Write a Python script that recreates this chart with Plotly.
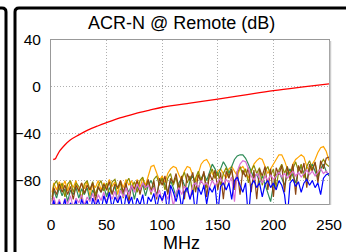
import plotly.graph_objects as go

FREQ = [1, 2.5, 5, 7.5, 10, 12.5, 15, 17.5, 20, 22.5, 25,
        27.5, 30, 32.5, 35, 37.5, 40, 42.5, 45, 47.5, 50,
        52.5, 55, 57.5, 60, 62.5, 65, 67.5, 70, 72.5, 75,
        77.5, 80, 82.5, 85, 87.5, 90, 92.5, 95, 97.5, 100,
        102.5, 105, 107.5, 110, 112.5, 115, 117.5, 120, 122.5, 125,
        127.5, 130, 132.5, 135, 137.5, 140, 142.5, 145, 147.5, 150,
        152.5, 155, 157.5, 160, 162.5, 165, 167.5, 170, 172.5, 175,
        177.5, 180, 182.5, 185, 187.5, 190, 192.5, 195, 197.5, 200,
        202.5, 205, 207.5, 210, 212.5, 215, 217.5, 220, 222.5, 225,
        227.5, 230, 232.5, 235, 237.5, 240, 242.5, 245, 247.5, 250]

ORANGE = [-90, -82, -88, -81, -87, -80, -89, -81, -86, -80, -90,
          -82, -87, -81, -93, -83, -86, -80, -88, -82, -86,
          -79, -85, -81, -92, -80, -86, -79, -84, -80, -88,
          -79, -86, -78, -84, -76, -68, -67, -74, -80, -76,
          -82, -74, -70, -68, -69, -75, -80, -72, -68, -69,
          -76, -82, -74, -66, -63, -62, -66, -74, -78, -72,
          -70, -74, -78, -70, -68, -72, -76, -70, -68, -72,
          -78, -72, -66, -63, -61, -62, -68, -74, -70, -66,
          -62, -58, -58, -63, -70, -74, -66, -62, -60, -58,
          -60, -68, -72, -66, -62, -56, -52, -51, -55, -63]

GREEN = [-96, -88, -95, -86, -93, -87, -98, -88, -92, -86, -95,
         -87, -92, -86, -97, -88, -93, -86, -90, -85, -94,
         -86, -91, -84, -99, -87, -92, -85, -90, -84, -96,
         -85, -89, -83, -93, -84, -80, -86, -92, -82, -78,
         -84, -90, -80, -86, -94, -82, -78, -84, -90, -80,
         -76, -82, -88, -78, -74, -80, -72, -66, -70, -76,
         -70, -64, -68, -74, -68, -62, -59, -58, -58, -61,
         -66, -72, -78, -74, -82, -76, -84, -90, -98, -84,
         -76, -72, -78, -84, -74, -70, -76, -82, -72, -68,
         -74, -80, -70, -66, -72, -78, -70, -66, -72, -76]

OLIVE = [-94, -84, -80, -88, -82, -94, -83, -80, -90, -82, -85,
         -96, -83, -80, -88, -81, -92, -84, -80, -89, -82,
         -93, -81, -79, -87, -82, -95, -82, -78, -86, -81,
         -90, -80, -77, -88, -80, -92, -79, -76, -84, -78,
         -88, -78, -74, -84, -77, -90, -78, -73, -82, -76,
         -92, -78, -72, -80, -74, -86, -76, -70, -78, -73,
         -84, -74, -69, -76, -71, -88, -74, -68, -75, -70,
         -82, -72, -67, -74, -69, -84, -72, -68, -76, -70,
         -86, -71, -66, -74, -68, -80, -70, -64, -72, -66,
         -78, -68, -63, -70, -65, -76, -66, -62, -66, -68]

BROWN = [-98, -86, -92, -83, -90, -84, -92, -85, -96, -84, -89,
         -82, -91, -84, -88, -82, -97, -85, -90, -83, -88,
         -81, -92, -83, -86, -80, -90, -82, -98, -84, -87,
         -80, -92, -82, -86, -79, -89, -80, -96, -78, -84,
         -76, -92, -78, -82, -74, -88, -76, -96, -74, -80,
         -73, -90, -75, -82, -72, -94, -74, -80, -71, -88,
         -73, -96, -72, -78, -70, -86, -72, -92, -71, -77,
         -69, -90, -71, -96, -70, -76, -68, -88, -70, -94,
         -69, -75, -67, -90, -68, -78, -66, -92, -67, -74,
         -65, -86, -66, -72, -64, -82, -63, -70, -61, -60]

VIOLET = [-100, -94, -102, -96, -104, -95, -100, -93, -103, -95, -99,
          -92, -101, -94, -98, -91, -100, -92, -97, -90, -99,
          -91, -96, -89, -98, -88, -94, -86, -92, -84, -90,
          -83, -88, -82, -86, -84, -90, -86, -94, -88, -98,
          -90, -96, -88, -102, -90, -86, -92, -85, -88, -96,
          -84, -82, -86, -80, -84, -82, -86, -80, -84, -81,
          -78, -83, -79, -82, -77, -98, -72, -66, -63, -64,
          -70, -76, -80, -74, -78, -82, -76, -80, -75, -79,
          -76, -73, -77, -74, -78, -75, -72, -76, -73, -77,
          -74, -71, -75, -72, -76, -73, -70, -74, -72, -75]

BLUE = [-104, -97, -108, -98, -105, -96, -110, -99, -104, -97, -108,
        -96, -103, -97, -110, -95, -102, -96, -106, -93, -100,
        -90, -104, -94, -99, -93, -108, -92, -100, -94, -106,
        -95, -101, -92, -108, -94, -98, -91, -104, -92, -97,
        -89, -110, -84, -90, -98, -88, -104, -90, -86, -96,
        -88, -110, -86, -92, -84, -100, -86, -90, -84, -108,
        -85, -82, -88, -82, -96, -80, -77, -84, -90, -82,
        -112, -84, -80, -86, -82, -94, -83, -80, -86, -82,
        -88, -80, -84, -92, -112, -82, -79, -85, -81, -90,
        -82, -79, -84, -80, -86, -82, -92, -78, -75, -74]

RED_FREQ = [2, 4, 5, 8, 12, 17, 25, 33, 42, 50, 62, 75, 88, 100,
            125, 150, 175, 200, 225, 250]
RED_DB = [-62, -61.3, -59.5, -54.5, -50, -45.5, -41, -37, -33.4, -30.5,
          -26.5, -23, -20, -17.4, -13.8, -10.5, -6.8, -3.2, -0.2, 2.6]

X_TICKS = [0, 50, 100, 150, 200, 250]
Y_TICKS = [-80, -40, 0, 40]

W, H = 346, 252
PLOT_L, PLOT_R, PLOT_T, PLOT_B = 51, 329, 40, 204


def px(x):
    return x / W


def py(y):
    return 1 - y / H


FONT = "Liberation Sans, Arial, sans-serif"

fig = go.Figure()
series = [
    (ORANGE, "#FFA500"),
    (GREEN, "#2E8B57"),
    (OLIVE, "#8B8B00"),
    (BROWN, "#8B4513"),
    (VIOLET, "#DA70D6"),
    (BLUE, "#0000FF"),
]
for vals, col in series:
    fig.add_trace(go.Scatter(x=FREQ, y=vals, mode="lines",
                             line=dict(color=col, width=1.2),
                             showlegend=False, hoverinfo="skip"))
fig.add_trace(go.Scatter(x=RED_FREQ, y=RED_DB, mode="lines",
                         line=dict(color="#FF0000", width=1.3, shape="spline"),
                         showlegend=False, hoverinfo="skip"))

BLK = dict(color="black", width=3)
shapes = [
    dict(type="path", xref="paper", yref="paper",
         path=(f"M {px(15)},{py(252)} L {px(15)},{py(12)} "
               f"Q {px(15)},{py(8)} {px(19)},{py(8)} L {px(346)},{py(8)}"),
         line=BLK),
    dict(type="path", xref="paper", yref="paper",
         path=(f"M {px(0)},{py(8)} L {px(2)},{py(8)} "
               f"Q {px(6)},{py(8)} {px(6)},{py(12)} L {px(6)},{py(252)}"),
         line=BLK),
    dict(type="line", xref="paper", yref="paper",
         x0=px(330.5), x1=px(330.5), y0=py(41), y1=py(205),
         line=dict(color="#cccccc", width=1.5)),
]

fig.update_layout(
    width=W, height=H,
    margin=dict(l=0, r=0, t=0, b=0, pad=0),
    paper_bgcolor="white", plot_bgcolor="white",
    font=dict(family=FONT, size=15.5, color="black"),
    shapes=shapes,
    annotations=[
        dict(text="ACR-N @ Remote (dB)", xref="paper", yref="paper",
             x=px(181), y=py(23), xanchor="center", yanchor="middle",
             showarrow=False, font=dict(size=18, family=FONT, color="black")),
        dict(text="MHz", xref="paper", yref="paper",
             x=px(181.5), y=py(243), xanchor="center", yanchor="middle",
             showarrow=False, font=dict(size=18, family=FONT, color="black")),
    ],
    xaxis=dict(range=[0, 250], tickvals=X_TICKS, ticks="",
               domain=[px(PLOT_L), px(PLOT_R)], automargin=False,
               showgrid=True, gridcolor="#b0b0b0", griddash="1px,2px", gridwidth=1,
               showline=True, linecolor="#999999", linewidth=1, mirror=True,
               zeroline=False, ticklabelstandoff=6),
    yaxis=dict(range=[-100, 40], tickvals=Y_TICKS, ticks="",
               domain=[py(PLOT_B), py(PLOT_T)], automargin=False,
               showgrid=True, gridcolor="#b0b0b0", griddash="1px,2px", gridwidth=1,
               showline=True, linecolor="#999999", linewidth=1, mirror=True,
               zeroline=False, ticklabelstandoff=6),
)

fig.write_html("out.html", config=dict(displayModeBar=False),
               post_script="document.body.style.margin='0';")
